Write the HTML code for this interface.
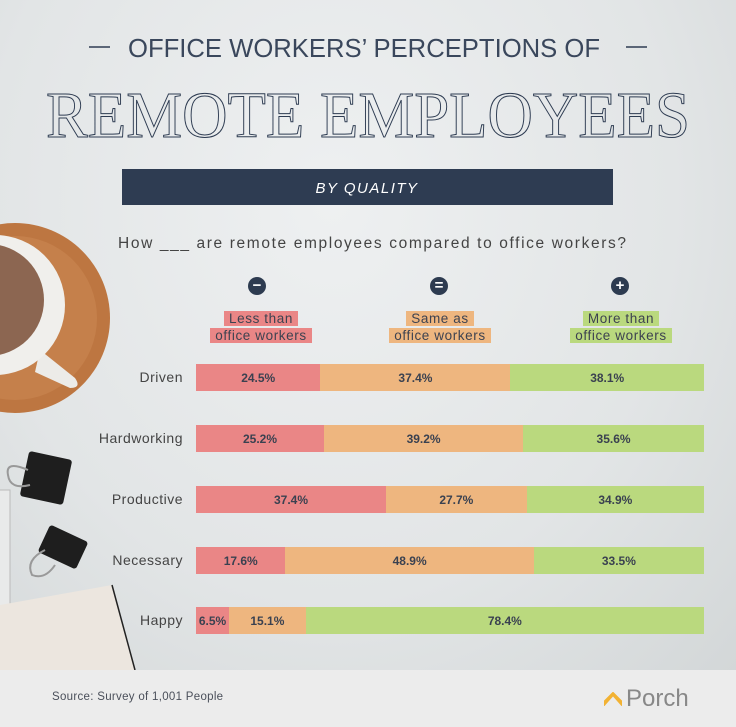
<!DOCTYPE html>
<html><head><meta charset="utf-8"><style>
body{margin:0;width:736px;height:727px;overflow:hidden;font-family:"Liberation Sans",sans-serif}
.bg{position:absolute;left:0;top:0;width:736px;height:670px;background:radial-gradient(ellipse at 45% 30%,#eef0f1 0%,#e2e5e6 60%,#d3d7d8 100%)}
.foot{position:absolute;left:0;top:670px;width:736px;height:57px;background:#ececec}
.row{position:absolute;left:196px;width:508px;height:27px;display:flex;font-size:12px;font-weight:bold;color:#3a4150}
.row div{display:flex;align-items:center;justify-content:center}
.r{background:#ea8686}.o{background:#eeb67f}.g{background:#bad97e}
.lab{position:absolute;right:553px;font-size:14px;color:#444;letter-spacing:.5px;text-align:right}
.tag{position:absolute;font-size:13.5px;color:#3d4250;letter-spacing:.6px;text-align:center;line-height:17px}
.tag span{padding:0 5px}
.ic{position:absolute;width:18px;height:18px;border-radius:50%;background:#2d3b50;color:#fff;font-size:15px;font-weight:bold;line-height:17px;text-align:center}
</style></head><body>
<div class="bg"></div>
<svg width="736" height="727" style="position:absolute;left:0;top:0">
 <circle cx="15" cy="318" r="95" fill="#bd7641"/>
 <circle cx="15" cy="318" r="82" fill="#c98550" opacity=".7"/>
 <path d="M40 350 L75 378 Q82 388 70 388 L35 372 Z" fill="#ecebe8"/>
 <circle cx="-5" cy="305" r="70" fill="#f0efec"/>
 <circle cx="-12" cy="300" r="56" fill="#8c6651"/>
 <rect x="24" y="455" width="44" height="46" rx="3" fill="#1e1e1e" transform="rotate(12 46 478)"/>
 <path d="M28 470 Q5 460 8 475 Q10 490 30 485" stroke="#999" fill="none" stroke-width="2"/>
 <rect x="42" y="532" width="42" height="30" rx="3" fill="#1e1e1e" transform="rotate(25 63 547)"/>
 <path d="M45 550 Q25 560 32 575 Q45 580 55 565" stroke="#999" fill="none" stroke-width="2"/>
 <rect x="-20" y="490" width="30" height="140" fill="#e9eaea" stroke="#bbb"/>
 <polygon points="0,605 112,585 135,670 0,670" fill="#ece6df"/>
 <line x1="112" y1="585" x2="135" y2="670" stroke="#222" stroke-width="1.5"/>
 <line x1="89" y1="47" x2="110" y2="47" stroke="#2e3c52" stroke-width="1.5"/>
 <line x1="626" y1="47" x2="647" y2="47" stroke="#2e3c52" stroke-width="1.5"/>
 <text x="128" y="57" textLength="472" lengthAdjust="spacingAndGlyphs" font-family="Liberation Sans Narrow, Liberation Sans, sans-serif" font-size="26" fill="#3a475c">OFFICE WORKERS’ PERCEPTIONS OF</text>
 <text x="46" y="137" textLength="644" lengthAdjust="spacingAndGlyphs" font-family="Liberation Serif, serif" font-size="66" fill="none" stroke="#2e3c52" stroke-width="1">REMOTE EMPLOYEES</text>
 <rect x="122" y="169" width="491" height="36" fill="#2e3c52"/>
 <text x="367" y="193" text-anchor="middle" font-family="Liberation Sans, sans-serif" font-style="italic" font-size="15" fill="#fff" letter-spacing="1.5">BY QUALITY</text>
 <text x="372" y="248" text-anchor="middle" font-family="Liberation Sans, sans-serif" font-size="15.5" fill="#444" textLength="508" lengthAdjust="spacing">How ___ are remote employees compared to office workers?</text>
</svg>
<div class="ic" style="left:248px;top:277px">−</div>
<div class="ic" style="left:430px;top:277px">=</div>
<div class="ic" style="left:611px;top:277px">+</div>
<div class="tag" style="left:196px;width:130px;top:310px"><span class="r">Less than</span><br><span class="r">office workers</span></div>
<div class="tag" style="left:375px;width:130px;top:310px"><span class="o">Same as</span><br><span class="o">office workers</span></div>
<div class="tag" style="left:556px;width:130px;top:310px"><span class="g">More than</span><br><span class="g">office workers</span></div>

<div class="lab" style="top:369px">Driven</div>
<div class="row" style="top:364px"><div class="r" style="width:24.5%">24.5%</div><div class="o" style="width:37.4%">37.4%</div><div class="g" style="width:38.1%">38.1%</div></div>
<div class="lab" style="top:430px">Hardworking</div>
<div class="row" style="top:425px"><div class="r" style="width:25.2%">25.2%</div><div class="o" style="width:39.2%">39.2%</div><div class="g" style="width:35.6%">35.6%</div></div>
<div class="lab" style="top:491px">Productive</div>
<div class="row" style="top:486px"><div class="r" style="width:37.4%">37.4%</div><div class="o" style="width:27.7%">27.7%</div><div class="g" style="width:34.9%">34.9%</div></div>
<div class="lab" style="top:552px">Necessary</div>
<div class="row" style="top:547px"><div class="r" style="width:17.6%">17.6%</div><div class="o" style="width:48.9%">48.9%</div><div class="g" style="width:33.5%">33.5%</div></div>
<div class="lab" style="top:612px">Happy</div>
<div class="row" style="top:607px"><div class="r" style="width:6.5%">6.5%</div><div class="o" style="width:15.1%">15.1%</div><div class="g" style="width:78.4%">78.4%</div></div>

<div class="foot"></div>
<div style="position:absolute;left:52px;top:691px;font-size:11.5px;color:#4a4f5a;letter-spacing:.3px">Source: Survey of 1,001 People</div>
<svg style="position:absolute;left:604px;top:692px" width="20" height="14"><path d="M1 12 L9 3 L17 12 L17 9 L9 1 L1 9Z" fill="#f2b233" stroke="#f2b233" stroke-width="2"/></svg>
<div style="position:absolute;left:626px;top:685px;font-size:24px;color:#888">Porch</div>
</body></html>
